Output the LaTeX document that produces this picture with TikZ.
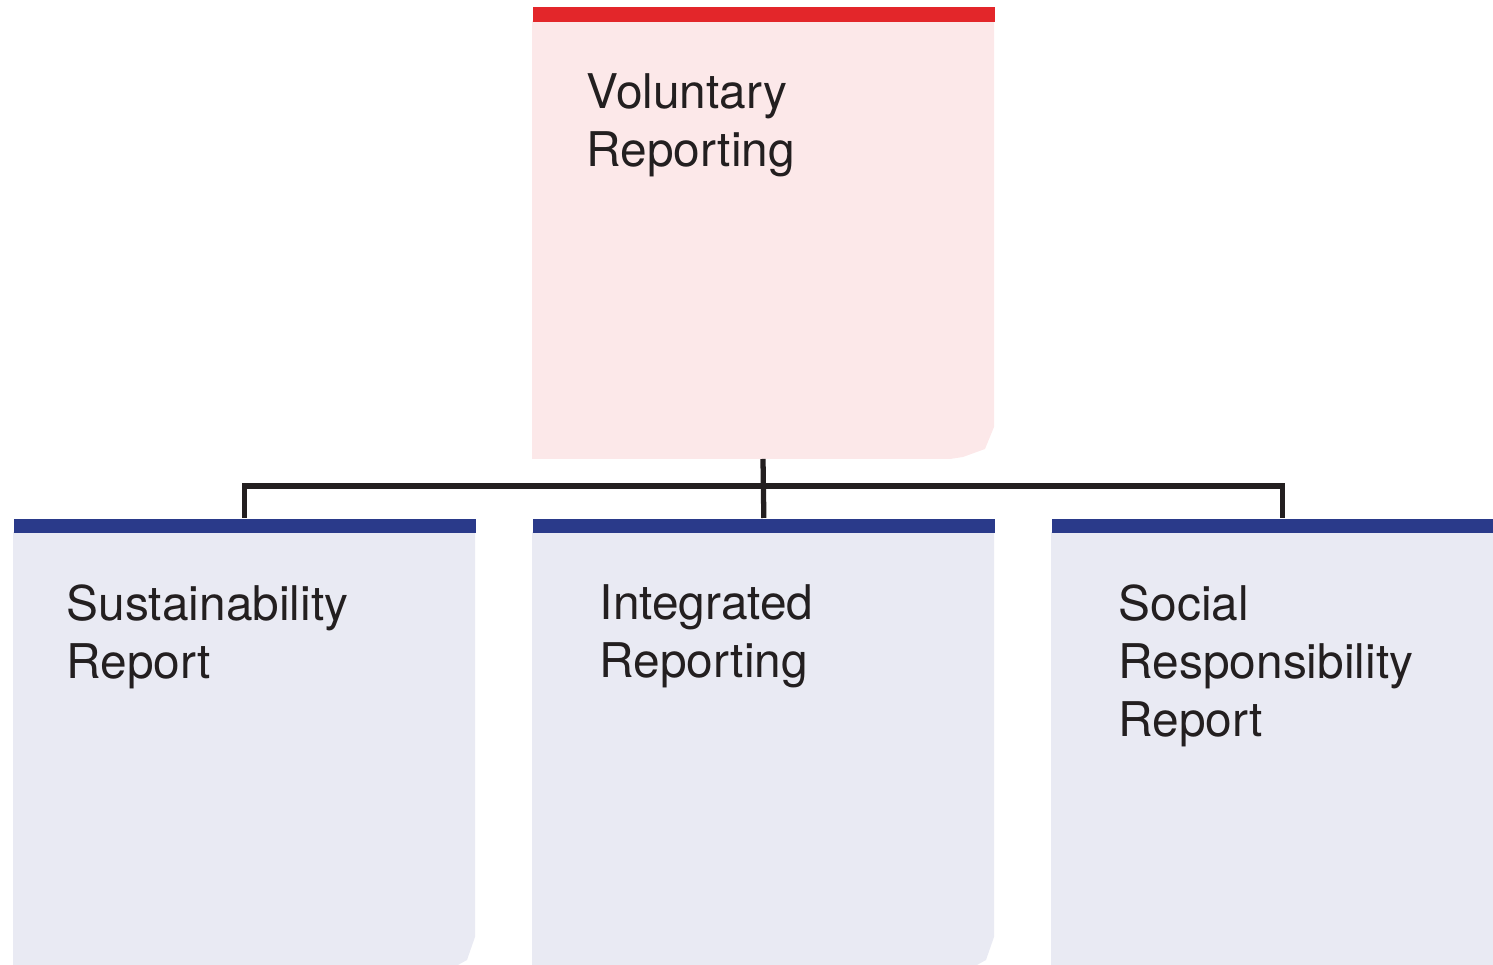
\documentclass[tikz,border=0pt]{standalone}
\usepackage{fontspec}
\setmainfont{TeX Gyre Heros}
\usepackage{xcolor}
\usepackage{tikz}
\usetikzlibrary{positioning}

\definecolor{barred}{RGB}{227,38,42}
\definecolor{pinkfill}{RGB}{252,232,233}
\definecolor{barblue}{RGB}{42,58,138}
\definecolor{bluefill}{RGB}{233,234,243}
\definecolor{linkgray}{RGB}{35,31,32}

\begin{document}
\begin{tikzpicture}[
    x=0.01cm, y=-0.01cm,
    redbar/.style={rectangle, fill=barred, inner sep=0pt, minimum width=4.62cm, minimum height=0.15cm, anchor=north west},
    bluebar/.style={rectangle, fill=barblue, inner sep=0pt, minimum width=4.62cm, minimum height=0.14cm, anchor=north west},
    label/.style={anchor=north west, inner sep=0pt, align=left, text=linkgray, font=\fontsize{13.6pt}{16.5pt}\selectfont},
    link/.style={draw=linkgray, line width=1.5pt}
]
\clip (0,0) rectangle (1493,965);

% Top level
\fill[pinkfill] (532,21) -- (994,21) -- (994,427) -- (985,449) -- (963,457) -- (950,459) -- (532,459) -- cycle;
\node[redbar] (volbar) at (532,6) {};
\node[label] (vol) at (586,73) {Voluntary\\Reporting};

% Second level
\fill[bluefill] (13,532) -- (475,532) -- (475,937) -- (467,960) -- (458,965) -- (13,965) -- cycle;
\fill[bluefill] (532,532) -- (994,532) -- (994,937) -- (986,960) -- (977,965) -- (532,965) -- cycle;
\fill[bluefill] (1051,532) rectangle (1513,965);
\node[bluebar] (susbar) at (13,518) {};
\node[bluebar] (intbar) at (532,518) {};
\node[bluebar] (socbar) at (1051,518) {};
\node[label] (sus) at (66,584) {Sustainability\\Report};
\node[label] (int) at (599,584) {Integrated\\Reporting};
\node[label] (soc) at (1118,584) {Social\\Responsibility\\Report};

% Connectors
\coordinate (volfoot) at (763,459);
\coordinate (hub) at (763,486);
\draw[link] (volfoot) -- (intbar.north);
\draw[link] (susbar.north) |- (hub) -| (socbar.north);

\end{tikzpicture}
\end{document}
